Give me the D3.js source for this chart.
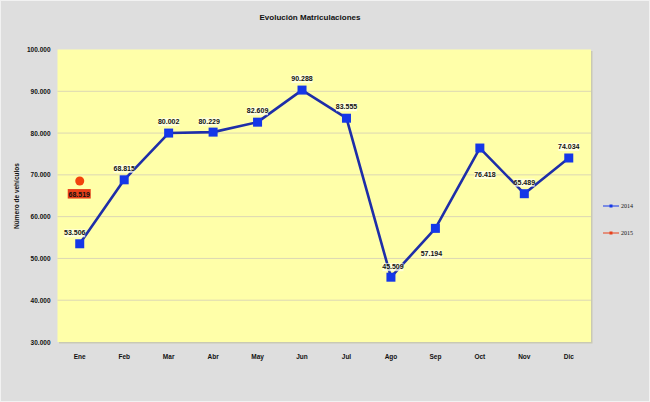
<!DOCTYPE html>
<html lang="es">
<head>
    <meta charset="UTF-8">
    <title>Evolución Matriculaciones</title>
    <script src="https://d3js.org/d3.v7.min.js"></script>
    <style>
        body { margin: 0; background: #ffffff; }
        text { font-family: "Liberation Sans Narrow", "Liberation Sans", Arial, sans-serif; font-weight: bold; fill: #111; }
    </style>
</head>
<body>
    <div id="chart"></div>
    <script>
        // Datos
        var months = ["Ene", "Feb", "Mar", "Abr", "May", "Jun", "Jul", "Ago", "Sep", "Oct", "Nov", "Dic"];
        var values2014 = [53506, 68815, 80002, 80229, 82609, 90288, 83555, 45509, 57194, 76418, 65489, 74034];
        var values2015 = [68519];
        var yTicks = [30000, 40000, 50000, 60000, 70000, 80000, 90000, 100000];
        var seriesNames = ["2014", "2015"];

        var W = 650, H = 402;
        var margin = {top: 49.5, right: 59, bottom: 60, left: 57.5};
        var width = W - margin.left - margin.right;
        var height = H - margin.top - margin.bottom;

        var fmt = function(v) { return d3.format(",")(v).replace(/,/g, "."); };

        var svg = d3.select("#chart").append("svg")
            .attr("width", W)
            .attr("height", H);

        // fondo gris
        svg.append("rect")
            .attr("x", 0.5).attr("y", 0.5)
            .attr("width", W - 1).attr("height", H - 1)
            .attr("fill", "#dedede")
            .attr("stroke", "#f2f2f2");

        svg.append("text")
            .attr("x", 310).attr("y", 20)
            .attr("text-anchor", "middle")
            .style("font-size", "8px")
            .text("Evolución  Matriculaciones");

        var g = svg.append("g")
            .attr("transform", "translate(" + margin.left + "," + margin.top + ")");

        var x = d3.scaleBand().domain(months).range([0, width]);
        var y = d3.scaleLinear().domain([30000, 100000]).range([height, 0]);
        var cx = function(i) { return x(months[i]) + x.bandwidth() / 2; };

        // sombra + area amarilla
        g.append("rect")
            .attr("x", 1.5).attr("y", 1.5)
            .attr("width", width).attr("height", height)
            .attr("fill", "#c9c9b4");
        g.append("rect")
            .attr("width", width).attr("height", height)
            .attr("fill", "#ffffa9");

        // cuadricula
        g.selectAll(".grid")
            .data(yTicks.slice(1, -1))
            .enter().append("line")
            .attr("x1", 0).attr("x2", width)
            .attr("y1", function(d) { return y(d); })
            .attr("y2", function(d) { return y(d); })
            .attr("stroke", "#dcd7b4")
            .attr("stroke-width", 1);

        // eje Y
        var yAxis = g.append("g")
            .call(d3.axisLeft(y).tickValues(yTicks).tickFormat(fmt).tickSize(0).tickPadding(7));
        yAxis.select(".domain").remove();
        yAxis.selectAll("text").style("font-size", "6.5px").attr("fill", "#111");

        // eje X
        var xAxis = g.append("g")
            .attr("transform", "translate(0," + height + ")")
            .call(d3.axisBottom(x).tickSize(0).tickPadding(12));
        xAxis.select(".domain").remove();
        xAxis.selectAll("text").style("font-size", "6.5px").attr("fill", "#111");

        svg.append("text")
            .attr("transform", "translate(19," + 196 + ") rotate(-90)")
            .attr("text-anchor", "middle")
            .style("font-size", "6.5px")
            .text("Número de vehículos");

        // serie 2014
        var line = d3.line()
            .x(function(d, i) { return cx(i); })
            .y(function(d) { return y(d); });

        g.append("path")
            .datum(values2014)
            .attr("d", line)
            .attr("fill", "none")
            .attr("stroke", "#1e2ea8")
            .attr("stroke-width", 2.6)
            .attr("stroke-linejoin", "round");

        g.selectAll(".m14")
            .data(values2014)
            .enter().append("rect")
            .attr("x", function(d, i) { return cx(i) - 4.5; })
            .attr("y", function(d) { return y(d) - 4.5; })
            .attr("width", 9).attr("height", 9)
            .attr("fill", "#1537e8");

        // posicion de etiquetas (dx, dy)
        var off = {Ene: [-5, -8.5], Abr: [-4, -8.5], Ago: [2, -8], Sep: [-4, 28], Oct: [5, 29]};
        var labels = g.selectAll(".l14")
            .data(values2014)
            .enter().append("g")
            .attr("transform", function(d, i) {
                var o = off[months[i]] || [0, -9];
                return "translate(" + (cx(i) + o[0]) + "," + (y(d) + o[1]) + ")";
            });
        labels.append("rect")
            .attr("x", -10.5).attr("y", -6)
            .attr("width", 21).attr("height", 8)
            .attr("fill", "#ffffee")
            .attr("opacity", 0.75);
        labels.append("text")
            .attr("text-anchor", "middle")
            .style("font-size", "7px")
            .text(fmt);

        // serie 2015
        g.selectAll(".m15")
            .data(values2015)
            .enter().append("circle")
            .attr("cx", function(d, i) { return cx(i); })
            .attr("cy", function(d) { return y(d); })
            .attr("r", 4.5)
            .attr("fill", "#f2420c");

        values2015.forEach(function(d, i) {
            var ly = y(d) + 13;
            g.append("rect")
                .attr("x", cx(i) - 12).attr("y", ly - 5)
                .attr("width", 23).attr("height", 9.5)
                .attr("fill", "#e8401a");
            g.append("text")
                .attr("x", cx(i) - 0.5).attr("y", ly + 2.5)
                .attr("text-anchor", "middle")
                .style("font-size", "7px")
                .text(fmt(d));
        });

        // leyenda
        var colors = ["#1537e8", "#e8401a"];
        var leg = svg.selectAll(".leg")
            .data(seriesNames)
            .enter().append("g")
            .attr("transform", function(d, i) { return "translate(603," + (206 + i * 27) + ")"; });
        leg.append("line")
            .attr("x1", 0).attr("x2", 16)
            .attr("stroke", function(d, i) { return colors[i]; })
            .attr("stroke-width", 1);
        leg.append("rect")
            .attr("x", 6.5).attr("y", -1.5)
            .attr("width", 3).attr("height", 3)
            .attr("fill", function(d, i) { return colors[i]; });
        leg.append("text")
            .attr("x", 18).attr("y", 2)
            .style("font-family", "'Liberation Serif', serif")
            .style("font-size", "6px")
            .style("font-weight", "normal")
            .text(function(d) { return d; });
    </script>
</body>
</html>
